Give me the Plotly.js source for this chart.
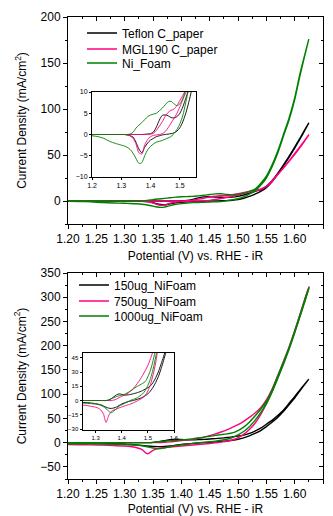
<!DOCTYPE html>
<html><head><meta charset="utf-8">
<script src="https://cdn.plot.ly/plotly-3.0.1.min.js"></script>
<style>html,body{margin:0;padding:0;background:#fff;}#chart{width:333px;height:516px;}</style>
</head><body><div id="chart"></div>
<script>
// Potential grid (V vs. RHE - iR), shared by forward and reverse scans
const potential = [1.20,1.22,1.24,1.26,1.28,1.30,1.31,1.32,1.33,1.34,1.35,1.36,1.37,1.38,1.39,1.40,1.41,1.42,1.43,1.44,1.45,1.46,1.47,1.48,1.49,1.50,1.51,1.52,1.53,1.54,1.55,1.56,1.57,1.58,1.59,1.60,1.61,1.625];

// Top panel: current density (mA/cm2), forward and reverse scans
const teflonFwd = [0,0,0,0,0,0,0,0,0,0,0,0,0,0.05,0.1,0.2,0.6,1.8,3.4,4.5,4.6,4.4,4.0,3.9,4.2,5.0,6.5,8.5,10.5,12.5,16,22,30,39,48.5,58.5,69,85];
const teflonRev = [0,0,0,0,0,0,0,-0.1,-0.3,-0.6,-1.8,-3.4,-4.3,-3.0,-2.0,-1.3,-0.9,-0.5,-0.3,-0.1,0,0.1,0.2,0.4,0.8,1.6,3,5,7.5,10.5,14.5,21,29,38,47.5,57.5,68,85];
const mglFwd = [0,0,0,0,0,0,0,0,0,0,0,0,0,0,0.05,0.1,0.3,1.0,2.0,3.0,4.3,5.2,5.7,6.0,6.8,8.0,9.2,10.5,11.5,13,16,22,29,36,43.5,51.5,59.5,72];
const mglRev = [0,0,0,0,0,0,0,-0.1,-0.3,-0.9,-2.2,-4.3,-4.6,-2.4,-1.2,-0.5,-0.2,-0.1,0,0.2,0.7,1.6,2.7,3.8,5.0,6.5,8.2,9.8,11,12.5,15.5,21,28.5,35.5,43,50.5,58.5,72];
const niFwd = [0,0,0,0,0,0,0,0,0.1,0.5,1.5,2.2,2.8,3.5,4.2,4.6,4.8,5.0,5.6,6.2,7.0,7.7,7.8,7.2,6.8,7.2,8.5,10.5,13,19,27,39,54,72,90,112,140,176];
const niRev = [-0.3,-0.5,-0.9,-1.6,-2.1,-2.5,-2.7,-3.0,-3.5,-4.4,-5.6,-6.8,-6.6,-5.0,-3.6,-2.8,-2.2,-1.8,-1.6,-1.4,-1.1,-0.8,-0.5,0.3,1.2,2.5,4.5,7.5,11,17,25,37,52,70,88,110,138,176];

// Bottom panel
const ug150Fwd = [0,0,0,0,0,0,0,0,0,0,0.5,2,4,6,7,6.5,5.8,5.8,6.2,6.8,7.5,8.3,9.3,10.5,12,13.5,15.5,19,24,30,38,46,56,67,81,95,110,131];
const ug150Rev = [-1.5,-1.6,-1.8,-2.1,-2.5,-3.3,-3.8,-4.5,-5.6,-7,-8,-8.3,-7.8,-6.8,-5.2,-3.6,-2.5,-1.5,-0.8,-0.2,0.5,1.3,2.3,3.5,5,7,10,14,19,25,33,42,52,64,78,92,108,131];
const ug750Fwd = [0,0,0,0,0,0,0,0,0,0,0,0,0.5,1.5,3,4.5,5.5,7,9,11.5,14.5,18,22,26.5,31.5,37,44,52,61,72,88,110,138,167,197,231,267,322];
const ug750Rev = [-4,-4.2,-4.5,-5,-6,-7,-8,-10,-14,-23,-16,-11.5,-10,-9,-7.8,-6.8,-5.8,-4.9,-4,-3,-1.8,-0.3,1.2,2.8,5.5,10,17,27,40,58,80,105,134,163,194,228,264,320];
const ug1000Fwd = [0,0,0,0,0,0,0,0,0,0,0.5,1.8,3,4.2,5,5.6,6.5,7.8,9.5,11.2,13.2,15,16.5,18,20,25,32,42,55,69,85,108,137,166,196,230,266,320];
const ug1000Rev = [-2.2,-2.3,-2.5,-2.8,-3.2,-3.8,-4.3,-5,-6.5,-8.5,-11,-12.8,-11,-8.5,-6,-4.5,-3.2,-1.8,-0.3,0.8,1.8,3,5,7,10.5,16,23,33,46,62,80,104,132,161,192,226,262,318];

const topNames = ['Teflon C_paper','MGL190 C_paper','Ni_Foam'];
const botNames = ['150ug_NiFoam','750ug_NiFoam','1000ug_NiFoam'];
const seriesColors = ['#000000','#FF0080','#008000'];

const mainXTicks = [1.20,1.25,1.30,1.35,1.40,1.45,1.50,1.55,1.60,1.65];
const mainXMinor = [1.225,1.275,1.325,1.375,1.425,1.475,1.525,1.575,1.625];
const topYTicks = [0,50,100,150,200];
const topYMinor = [-25,25,75,125,175];
const botYTicks = [-50,0,50,100,150,200,250,300,350];
const botYMinor = [-75,-25,25,75,125,175,225,275,325];
const topInsetXTicks = [1.2,1.3,1.4,1.5];
const topInsetYTicks = [-10,-5,0,5,10];
const botInsetXTicks = [1.3,1.4,1.5,1.6];
const botInsetYTicks = [-30,-15,0,15,30,45];

function loopX(){ return potential.concat(potential.slice().reverse()); }
function loopY(f, r){ return f.concat(r.slice().reverse()); }

const topSets = [[teflonFwd,teflonRev],[mglFwd,mglRev],[niFwd,niRev]];
const botSets = [[ug150Fwd,ug150Rev],[ug750Fwd,ug750Rev],[ug1000Fwd,ug1000Rev]];

const traces = [];
topSets.forEach((s,i)=>{
  traces.push({type:'scatter',mode:'lines',x:loopX(),y:loopY(s[0],s[1]),name:topNames[i],
    line:{color:seriesColors[i],width:1.4,shape:'spline',smoothing:0.8},xaxis:'x',yaxis:'y',legend:['legend','legend2','legend3'][i],hoverinfo:'skip'});
});
topSets.forEach((s,i)=>{
  traces.push({type:'scatter',mode:'lines',x:loopX(),y:loopY(s[0],s[1]),name:topNames[i],showlegend:false,
    line:{color:seriesColors[i],width:0.9,shape:'spline',smoothing:0.8},xaxis:'x2',yaxis:'y2',hoverinfo:'skip'});
});
botSets.forEach((s,i)=>{
  traces.push({type:'scatter',mode:'lines',x:loopX(),y:loopY(s[0],s[1]),name:botNames[i],
    line:{color:seriesColors[i],width:1.4,shape:'spline',smoothing:0.8},xaxis:'x3',yaxis:'y3',legend:['legend4','legend5','legend6'][i],hoverinfo:'skip'});
});
botSets.forEach((s,i)=>{
  traces.push({type:'scatter',mode:'lines',x:loopX(),y:loopY(s[0],s[1]),name:botNames[i],showlegend:false,
    line:{color:seriesColors[i],width:0.9,shape:'spline',smoothing:0.8},xaxis:'x4',yaxis:'y4',hoverinfo:'skip'});
});
// empty traces registering the mirrored (inside-tick) axes
traces.push({type:'scatter',mode:'lines',x:[],y:[],xaxis:'x5',yaxis:'y',showlegend:false,hoverinfo:'skip'});
traces.push({type:'scatter',mode:'lines',x:[],y:[],xaxis:'x',yaxis:'y5',showlegend:false,hoverinfo:'skip'});
traces.push({type:'scatter',mode:'lines',x:[],y:[],xaxis:'x6',yaxis:'y3',showlegend:false,hoverinfo:'skip'});
traces.push({type:'scatter',mode:'lines',x:[],y:[],xaxis:'x3',yaxis:'y6',showlegend:false,hoverinfo:'skip'});

const W=333, H=516;
const xd = (a,b)=>[a/W,b/W];
const yd = (top,bot)=>[1-bot/H,1-top/H];

const base = {showgrid:false,zeroline:false,showline:true,linecolor:'#000',linewidth:1,
  ticks:'outside',tickcolor:'#000',tickwidth:1,ticklen:4,mirror:true,tickfont:{size:12,color:'#000'}};
const inside = {showgrid:false,zeroline:false,showline:false,ticks:'inside',tickcolor:'#000',tickwidth:1,ticklen:4,showticklabels:false};
const ytitle = {text:'Current Density (mA/cm<sup>2</sup>)',font:{size:12},standoff:11};
const xtitle = {text:'Potential (V) vs. RHE - iR',font:{size:12},standoff:6};

const leg = (px,py)=>({x:px/W,xanchor:'left',y:1-py/H,yanchor:'middle',bgcolor:'rgba(0,0,0,0)',borderwidth:0,font:{size:12,color:'#000'}});

const layout = {
  width:W,height:H,margin:{l:0,r:0,t:0,b:0},paper_bgcolor:'#fff',plot_bgcolor:'#fff',
  font:{family:'Liberation Sans, Arial, sans-serif',size:12,color:'#000'},
  showlegend:true,
  xaxis:Object.assign({},base,{domain:xd(68,323),anchor:'y',range:[1.2,1.65],tickvals:mainXTicks,ticktext:mainXTicks.map(v=>v.toFixed(2)),
    minor:{tickvals:mainXMinor,ticks:'outside',ticklen:2},title:xtitle}),
  yaxis:Object.assign({},base,{domain:yd(17,224),anchor:'x',range:[-25,200],tickvals:topYTicks,
    minor:{tickvals:topYMinor,ticks:'outside',ticklen:2},title:ytitle}),
  xaxis5:Object.assign({},inside,{overlaying:'x',anchor:'y',side:'top',range:[1.2,1.65],tickvals:mainXTicks,minor:{tickvals:mainXMinor,ticks:'inside',ticklen:2}}),
  yaxis5:Object.assign({},inside,{overlaying:'y',anchor:'x',side:'right',range:[-25,200],tickvals:topYTicks,minor:{tickvals:topYMinor,ticks:'inside',ticklen:2}}),
  xaxis2:Object.assign({},base,{domain:xd(92,196),anchor:'y2',range:[1.2,1.555],tickvals:topInsetXTicks,ticktext:topInsetXTicks.map(v=>v.toFixed(1)),ticklen:2,tickfont:{size:7}}),
  yaxis2:Object.assign({},base,{domain:yd(92,177),anchor:'x2',range:[-10,10],tickvals:topInsetYTicks,ticklen:2,tickfont:{size:7}}),
  xaxis3:Object.assign({},base,{domain:xd(68,323),anchor:'y3',range:[1.2,1.65],tickvals:mainXTicks,ticktext:mainXTicks.map(v=>v.toFixed(2)),
    minor:{tickvals:mainXMinor,ticks:'outside',ticklen:2},title:xtitle}),
  yaxis3:Object.assign({},base,{domain:yd(273,479),anchor:'x3',range:[-75,350],tickvals:botYTicks,
    minor:{tickvals:botYMinor,ticks:'outside',ticklen:2},title:ytitle}),
  xaxis6:Object.assign({},inside,{overlaying:'x3',anchor:'y3',side:'top',range:[1.2,1.65],tickvals:mainXTicks,minor:{tickvals:mainXMinor,ticks:'inside',ticklen:2}}),
  yaxis6:Object.assign({},inside,{overlaying:'y3',anchor:'x3',side:'right',range:[-75,350],tickvals:botYTicks,minor:{tickvals:botYMinor,ticks:'inside',ticklen:2}}),
  xaxis4:Object.assign({},base,{domain:xd(82.5,174),anchor:'y4',range:[1.25,1.6],tickvals:botInsetXTicks,ticktext:botInsetXTicks.map(v=>v.toFixed(1)),ticklen:2,tickfont:{size:6}}),
  yaxis4:Object.assign({},base,{domain:yd(353,430),anchor:'x4',range:[-31,50],tickvals:botInsetYTicks,ticklen:2,tickfont:{size:6}}),
  legend:leg(82,33), legend2:leg(82,49), legend3:leg(82,63),
  legend4:leg(74,285), legend5:leg(74,301), legend6:leg(74,316)
};

Plotly.newPlot('chart',traces,layout,{displayModeBar:false,staticPlot:true});
</script>
</body></html>
